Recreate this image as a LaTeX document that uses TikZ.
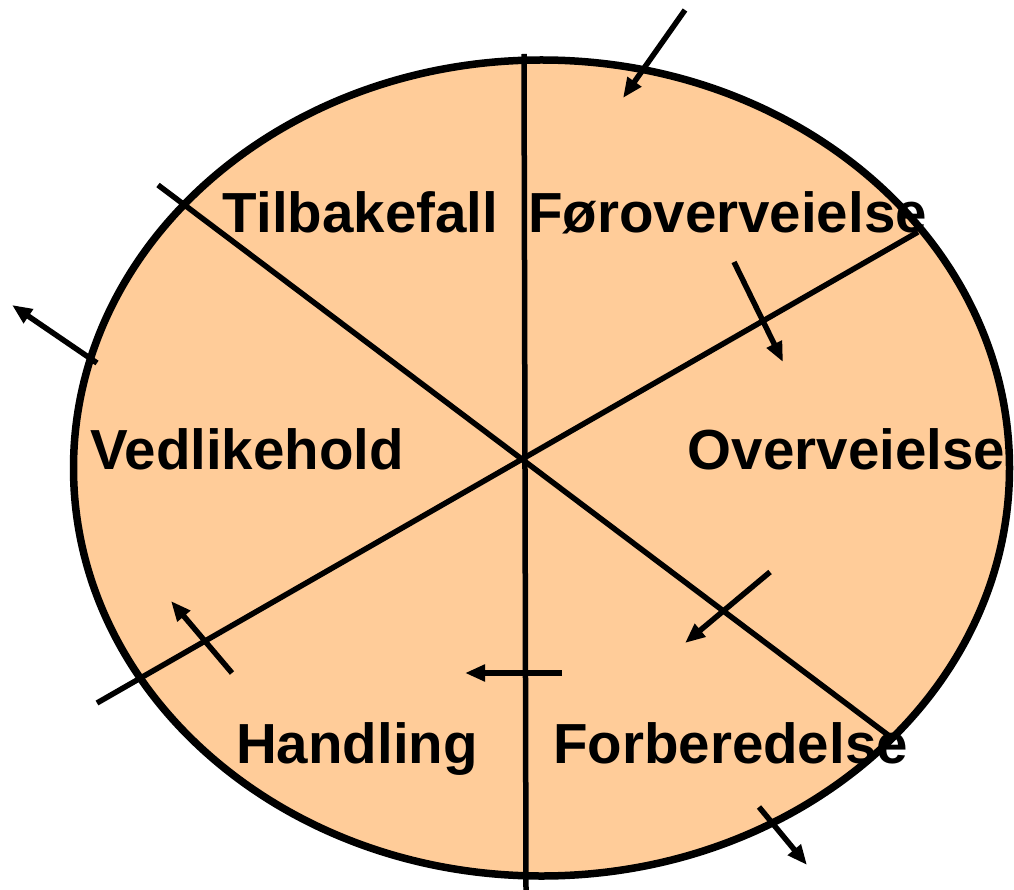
\documentclass[tikz,border=0pt]{standalone}
\usepackage{fontspec}
\setmainfont{Liberation Sans}
\usetikzlibrary{arrows.meta}
\definecolor{peach}{RGB}{255,204,153}

\begin{document}
\begin{tikzpicture}[
  x=1pt, y=-1pt,
  >={Triangle[length=20pt, width=16pt]},
  wheel/.style={draw, line width=7.5pt, fill=peach},
  divider/.style={line width=5.5pt},
  flow/.style={->, line width=5.5pt},
  stage/.style={font=\fontsize{56.5}{60}\selectfont\bfseries, inner sep=0pt, anchor=base},
]
\useasboundingbox (0,0) rectangle (1014,890);

% ---- wheel -----------------------------------------------------------------
\draw[wheel] (541.5,468) ellipse [x radius=468, y radius=408];

% ---- dividers --------------------------------------------------------------
\coordinate (vtop) at (524,54);
\coordinate (vbot) at (526,890);
\coordinate (nw) at (158,185);
\coordinate (se) at (888,735);
\coordinate (sw) at (97,703);
\coordinate (ne) at (918,232);
\draw[divider] (vtop) -- (vbot);
\draw[divider] (nw) -- (se);
\draw[divider] (sw) -- (ne);

% ---- stages ----------------------------------------------------------------
\node[stage] (tilbakefall)  at (360.5,233) {Tilbakefall};
\node[stage] (foroverv)     at (727.5,233) {Føroverveielse};
\node[stage] (vedlikehold)  at (247,469)   {Vedlikehold};
\node[stage] (overveielse)  at (846.5,469) {Overveielse};
\node[stage] (handling)     at (357,763)   {Handling};
\node[stage] (forberedelse) at (730.5,763) {Forberedelse};

% ---- flow arrows -----------------------------------------------------------
\foreach \n/\sx/\sy/\ex/\ey in {in/685/10/623/98, fo/734/262/783/362,
    ov/770/572/685/643, fb/562/673/465/673, ha/232/673/171/601,
    out/97/363/12/305, exit/759/807/807/865}{
  \coordinate (\n-s) at (\sx,\sy);
  \coordinate (\n-e) at (\ex,\ey);
  \draw[flow] (\n-s) -- (\n-e);
}
\end{tikzpicture}
\end{document}
